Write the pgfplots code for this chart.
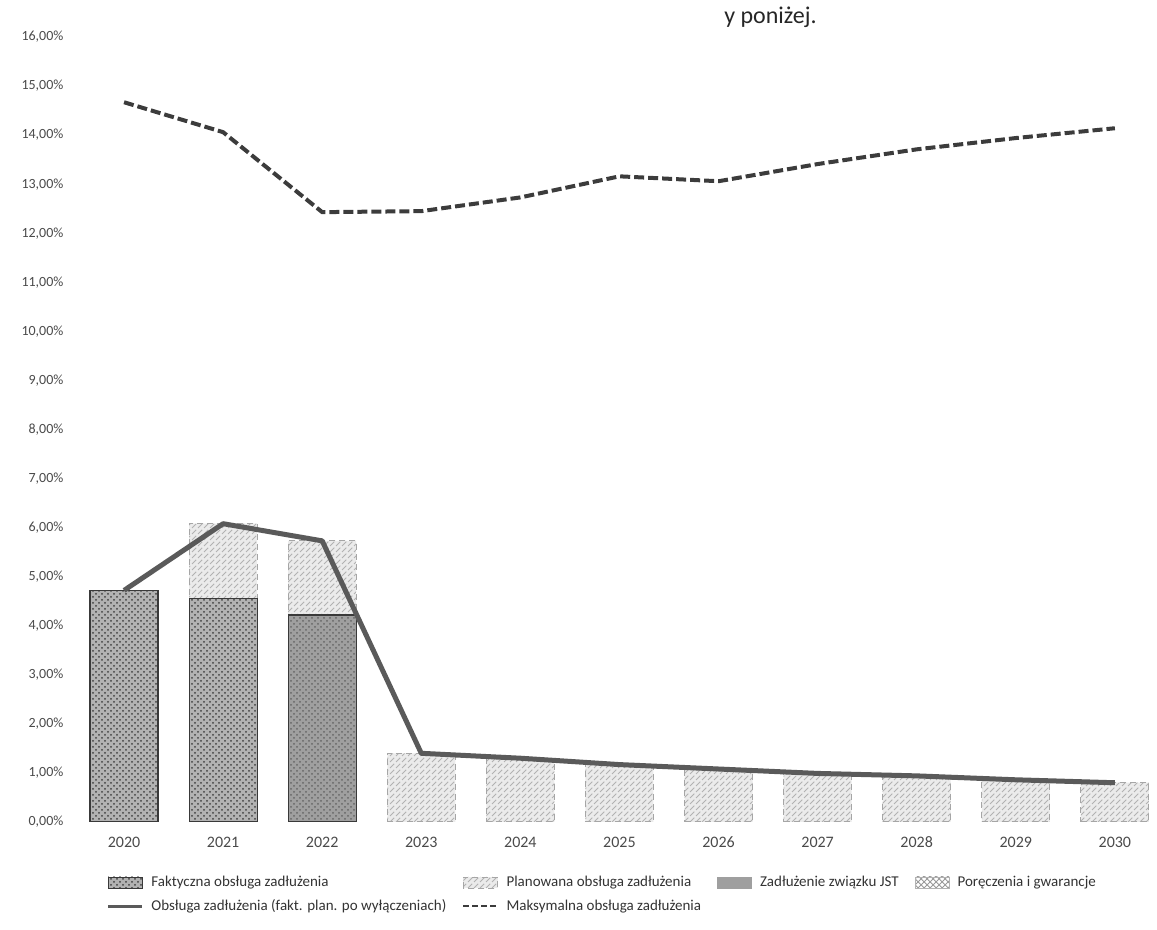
\documentclass[border=0pt]{standalone}
\usepackage{pgfplots}
\pgfplotsset{compat=1.18}
\usepackage{pgfplotstable}
\usepackage{fontspec}
\setmainfont{Carlito}
\usetikzlibrary{patterns}

% x: 0=2020 ... 10=2030
\pgfplotstableread{
x total
0 4.72
1 6.08
2 5.73
3 1.40
4 1.30
5 1.17
6 1.08
7 0.99
8 0.94
9 0.86
10 0.80
}\totals
\pgfplotstableread{
x plan
1 6.08
2 5.73
3 1.40
4 1.30
5 1.17
6 1.08
7 0.99
8 0.94
9 0.86
10 0.80
}\planned
\pgfplotstableread{
x fakt
0 4.72
1 4.55
}\fakt
\pgfplotstableread{
x jst
2 4.22
}\jst
\pgfplotstableread{
x maxv
0 14.67
1 14.06
2 12.43
3 12.45
4 12.73
5 13.16
6 13.06
7 13.41
8 13.71
9 13.94
10 14.14
}\maxo

\definecolor{linegray}{HTML}{5A5A5A}
\definecolor{dashgray}{HTML}{3C3C3C}
\definecolor{txtgray}{HTML}{4A4A4A}

\begin{document}
\begin{tikzpicture}
\useasboundingbox (0pt,0pt) rectangle (578.5pt,465pt);
\node[anchor=base east, font=\fontsize{12}{14}\selectfont, text=black!85, inner sep=0pt] at (408.5pt,453pt) {y poniżej.};
\begin{axis}[
  at={(37.25pt,54pt)}, anchor=south west,
  scale only axis, width=540pt, height=392.5pt,
  xmin=-0.5, xmax=10.4, ymin=0, ymax=16,
  axis line style={draw=none},
  major tick length=0pt,
  xtick={0,1,...,10},
  xticklabels={2020,2021,2022,2023,2024,2025,2026,2027,2028,2029,2030},
  ytick={0,1,...,16},
  yticklabel={\pgfmathprintnumber[fixed,fixed zerofill,precision=2,use comma]{\tick}\%},
  /pgf/number format/assume math mode=true,
  xticklabel style={font=\fontsize{8}{9}\selectfont, text=txtgray, yshift=-4pt},
  yticklabel style={font=\fontsize{7}{8}\selectfont, text=txtgray, xshift=-2pt},
  legend columns=4,
  legend style={at={(0.024,-0.058)}, anchor=north west, draw=none, fill=none,
    font=\fontsize{7.5}{9}\selectfont, text=black!80,
    /tikz/every odd column/.append style={column sep=2pt},
    /tikz/every even column/.append style={column sep=6pt},
    row sep=1pt},
  legend cell align=left,
]
% planned (background, full height)
\addplot[ybar, bar width=34pt, bar shift=0pt, forget plot,
  fill=gray!16, draw=gray!70, densely dashed, line width=0.6pt,
  postaction={pattern=north east lines, pattern color=gray!60}]
  table[x=x,y=plan] {\planned};
% actual
\addplot[ybar, bar width=34pt, bar shift=0pt, forget plot,
  fill=gray!60, draw=gray!45!black, line width=0.6pt,
  postaction={pattern=crosshatch dots, pattern color=black!75}]
  table[x=x,y=fakt] {\fakt};
% debt of union JST
\addplot[ybar, bar width=34pt, bar shift=0pt, forget plot,
  fill=gray!75, draw=gray!45!black, line width=0.6pt,
  postaction={pattern=crosshatch dots, pattern color=black!60}]
  table[x=x,y=jst] {\jst};
% total line
\addplot[sharp plot, forget plot, color=linegray, line width=2.5pt, line join=round]
  table[x=x,y=total] {\totals};
% max line
\addplot[sharp plot, forget plot, color=dashgray, line width=2pt, dash pattern=on 5pt off 2pt]
  table[x=x,y=maxv] {\maxo};

\addlegendimage{area legend, fill=gray!60, draw=gray!45!black, postaction={pattern=crosshatch dots, pattern color=black!75}}
\addlegendentry{Faktyczna obsługa zadłużenia}
\addlegendimage{area legend, fill=gray!16, draw=gray!70, densely dashed, postaction={pattern=north east lines, pattern color=gray!60}}
\addlegendentry{Planowana obsługa zadłużenia}
\addlegendimage{area legend, fill=gray!75, draw=gray!75}
\addlegendentry{Zadłużenie związku JST}
\addlegendimage{area legend, fill=white, draw=gray!60, postaction={pattern=crosshatch, pattern color=gray!80}}
\addlegendentry{Poręczenia i gwarancje}
\addlegendimage{color=linegray, line width=1.2pt}
\addlegendentry{Obsługa zadłużenia (fakt. plan. po wyłączeniach)}
\addlegendimage{color=dashgray, line width=1pt, dash pattern=on 3pt off 1.5pt}
\addlegendentry{Maksymalna obsługa zadłużenia}
\end{axis}
\end{tikzpicture}
\end{document}
